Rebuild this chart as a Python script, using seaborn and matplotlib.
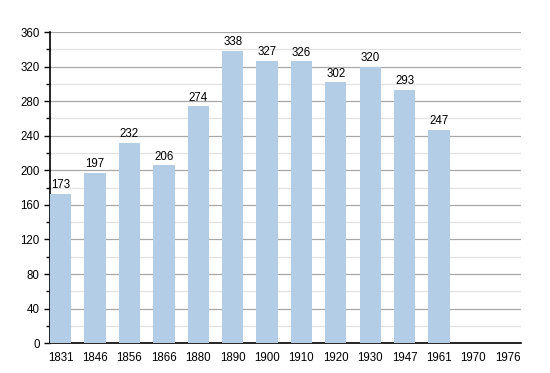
import numpy as np
import pandas as pd
import matplotlib
matplotlib.use("Agg")
import matplotlib.pyplot as plt
import seaborn as sns

# data
years = ["1831", "1846", "1856", "1866", "1880", "1890", "1900",
         "1910", "1920", "1930", "1947", "1961", "1970", "1976"]
population = [173, 197, 232, 206, 274, 338, 327, 326, 302, 320, 293, 247,
              np.nan, np.nan]

df = pd.DataFrame({"year": years, "pop": population})

sns.set_style("white")
plt.rcParams["font.family"] = ["Liberation Sans", "DejaVu Sans"]
plt.rcParams["text.color"] = "black"
plt.rcParams["xtick.color"] = "black"
plt.rcParams["ytick.color"] = "black"

fig = plt.figure(figsize=(5.5, 3.73), dpi=100)
ax = fig.add_axes([0.091, 0.080, 0.856, 0.834])

sns.barplot(data=df, x="year", y="pop", order=years, color="#b3cde6",
            saturation=1, width=0.62, linewidth=0, ax=ax, zorder=3)

ax.set_ylim(0, 360)
ax.set_xlim(-0.31, len(years) - 0.62)
ax.set_yticks(np.arange(0, 361, 40))
ax.set_yticks(np.arange(20, 361, 40), minor=True)
ax.yaxis.grid(True, which="major", color="#a8a8a8", lw=0.9, zorder=0)
ax.yaxis.grid(True, which="minor", color="#e2e2e2", lw=0.9, zorder=0)
ax.set_axisbelow(True)

for s in ["top", "right"]:
    ax.spines[s].set_visible(False)
for s in ["left", "bottom"]:
    ax.spines[s].set_color("black")
    ax.spines[s].set_linewidth(1.2)

ax.tick_params(axis="y", which="major", left=True, length=4, width=1,
               labelsize=8.3, color="black")
ax.tick_params(axis="y", which="minor", left=True, length=3, width=1,
               color="black")
ax.tick_params(axis="x", bottom=False, labelsize=8.3, pad=3)
ax.set_xlabel("")
ax.set_ylabel("")

for i, v in enumerate(population):
    if not np.isnan(v):
        ax.text(i, v + 3, f"{int(v)}", ha="center", va="bottom", fontsize=8.3)

fig.savefig("out.png", dpi=100)
